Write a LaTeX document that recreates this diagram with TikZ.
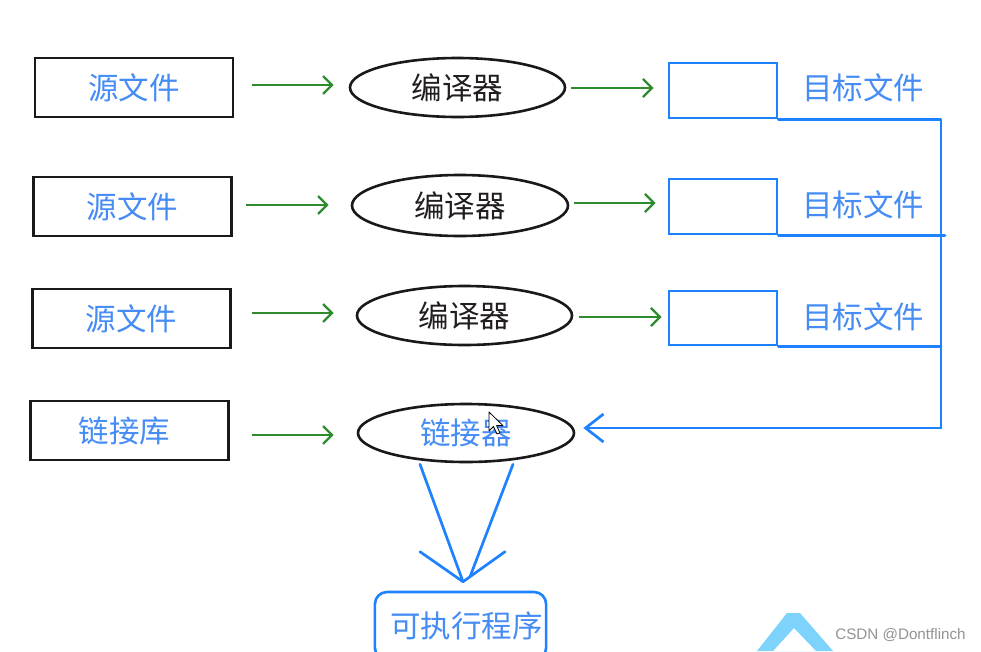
\documentclass[tikz,border=0pt]{standalone}
\usepackage{fontspec}
\setmainfont{Liberation Sans}
\newfontfamily\cjk{Noto Sans CJK SC}
\usetikzlibrary{shapes.geometric,arrows.meta,calc}
\definecolor{txtblue}{RGB}{70,140,245}
\definecolor{lineblue}{RGB}{30,130,255}
\definecolor{arrgreen}{RGB}{46,139,46}
\definecolor{boxblack}{RGB}{25,25,25}
\definecolor{darktxt}{RGB}{35,30,30}
\definecolor{logoblue}{RGB}{125,211,252}
\begin{document}
\begin{tikzpicture}[x=1pt,y=-1pt,
  cjkfont/.style={font=\cjk\fontsize{30.5}{32}\selectfont},
  srcbox/.style={draw=boxblack, line width=2.8pt, minimum width=198pt, minimum height=59pt, inner sep=0pt, text=txtblue, cjkfont},
  ellip/.style={ellipse, draw=boxblack, line width=2.6pt, minimum width=215pt, minimum height=59pt, inner sep=0pt, text=darktxt, cjkfont},
  tgtbox/.style={draw=lineblue, line width=2.8pt, minimum width=108pt, minimum height=55pt, inner sep=0pt},
  lab/.style={text=txtblue, cjkfont, inner sep=0pt},
  garrow/.style={draw=arrgreen, line width=2.3pt, -{Straight Barb[length=9pt,width=18pt]}},
  blueline/.style={draw=lineblue, line width=2.7pt, line cap=round, line join=round}
]
\useasboundingbox (0,0) rectangle (981,651);
\fill[white] (0,0) rectangle (981,651);

% row 1
\node[srcbox] (src1) at (134,87.5) {源文件};
\node[ellip] (ell1) at (457.5,87.5) {编译器};
\node[tgtbox] (tgt1) at (723,90.5) {};
\node[lab] (lab1) at (863,88) {目标文件};
% row 2
\node[srcbox] (src2) at (132.5,206.5) {源文件};
\node[ellip, minimum height=61pt, minimum width=216pt] (ell2) at (460,205.5) {编译器};
\node[tgtbox] (tgt2) at (723,206.5) {};
\node[lab] (lab2) at (863,205) {目标文件};
% row 3
\node[srcbox] (src3) at (131.5,318.5) {源文件};
\node[ellip] (ell3) at (464.5,315.5) {编译器};
\node[tgtbox, minimum height=54pt] (tgt3) at (723,318) {};
\node[lab] (lab3) at (863,317) {目标文件};
% row 4
\node[srcbox] (lib) at (129.5,430.5) {\hspace*{-10pt}链接库};
\node[ellip, minimum width=216pt, minimum height=58pt, text=txtblue] (link) at (466,433) {链接器};
% executable
\node[draw=lineblue, line width=2.6pt, rounded corners=12pt, minimum width=171pt, minimum height=68pt, text=txtblue, cjkfont] (exe) at (460.5,626) {\hspace*{12pt}可执行程序};

% green arrows
\draw[garrow] ($(src1.east)+(18,-2.5)$) -- ($(ell1.west)+(-15,-2.5)$);
\draw[garrow] ($(ell1.east)+(5,0.5)$) -- ($(tgt1.west)+(-14,-2.5)$);
\draw[garrow] ($(src2.east)+(13,-1.5)$) -- ($(ell2.west)+(-22,-0.5)$);
\draw[garrow] ($(ell2.east)+(5,-2.5)$) -- ($(tgt2.west)+(-12,-3.5)$);
\draw[garrow] ($(src3.east)+(20,-5.5)$) -- ($(ell3.west)+(-22,-2.5)$);
\draw[garrow] ($(ell3.east)+(6,1.5)$) -- ($(tgt3.west)+(-6,-1)$);
\draw[garrow] ($(lib.east)+(22,4.5)$) -- ($(link.west)+(-23,2)$);

% blue bus
\coordinate (busTop) at (941,118);
\coordinate (busBot) at (941,428);
\draw[blueline] (tgt1.south east) -- (tgt1.south east -| busTop) -- (busBot);
\draw[blueline] (tgt2.south east) -- ($(tgt2.south east -| busTop)+(4,0)$);
\draw[blueline] (tgt3.south east) -- (tgt3.south east -| busTop);
\draw[blueline, -{Straight Barb[length=18pt,width=28pt]}, shorten >=8pt] (busBot) -- (busBot -| link.east);

% linker to executable
\coordinate (tip) at ($(exe.north)+(2.5,-9)$);
\draw[blueline] ($(link.south)+(-46,1)$) -- (tip);
\draw[blueline] ($(link.south)+(47,1)$) -- ($(tip)+(7,-5)$);
\draw[blueline] ($(tip)+(-43,-30)$) -- (tip) -- ($(tip)+(42,-30)$);

% mouse cursor
\draw[black, line width=0.8pt, fill=white, line join=round]
  (489,412) -- (489,431) -- (493.5,426.5) -- (497,434) -- (500,432.8) -- (496.6,425.6) -- (503,425.6) -- cycle;

% watermark
\fill[logoblue, even odd rule] (757,651) -- (787,613) -- (800,613) -- (833,651) -- cycle
  (773,651) -- (794,628) -- (816,651) -- cycle;
\node[text=gray!85, font=\fontsize{15.2}{16}\selectfont, inner sep=0pt] (wm) at (900.5,635.5) {CSDN @Dontflinch};
\end{tikzpicture}
\end{document}
